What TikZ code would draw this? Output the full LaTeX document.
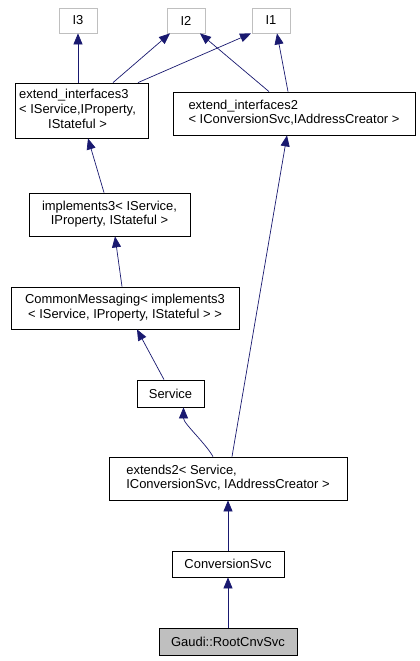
\documentclass[tikz,border=0pt]{standalone}
\usepackage{fontspec}
\setmainfont{Liberation Sans}
\usetikzlibrary{arrows.meta}
\definecolor{edgeblue}{HTML}{191970}
\definecolor{lgray}{HTML}{BFBFBF}
\begin{document}
\begin{tikzpicture}[x=1bp,y=-1bp,
  font=\fontsize{13}{15}\selectfont,
  cls/.style={draw=black, rectangle, inner sep=0pt, align=center, line width=0.8bp},
  iface/.style={draw=lgray, rectangle, inner sep=0pt, line width=0.8bp, minimum width=38bp, minimum height=25bp},
  edge/.style={draw=edgeblue, line width=0.7bp, -{Triangle[length=11bp,width=9bp,fill=edgeblue]}}]
\useasboundingbox[fill=white] (0,0) rectangle (419,661);

\node[iface] (I3) at (78,20.5) {I3};
\node[iface] (I2) at (186,20.5) {I2};
\node[iface] (I1) at (271,20.5) {I1};

\node[cls, minimum width=133bp, minimum height=55bp] (ei3) at (81.5,110.5)
  {\begin{tabular}{@{}l@{}}extend\_interfaces3\\< IService,IProperty,\\\multicolumn{1}{@{}c@{}}{IStateful >}\end{tabular}\hspace{8bp}};
\node[cls, minimum width=242bp, minimum height=43bp] (ei2) at (294,113.5)
  {\begin{tabular}{@{}l@{}}extend\_interfaces2\\\multicolumn{1}{@{}c@{}}{< IConversionSvc,IAddressCreator >}\end{tabular}};
\node[cls, minimum width=161bp, minimum height=43bp] (impl3) at (109.5,214.5)
  {\begin{tabular}{@{}l@{}}implements3< IService,\\\multicolumn{1}{@{}c@{}}{IProperty, IStateful >}\end{tabular}};
\node[cls, minimum width=228bp, minimum height=42bp] (cm) at (125,308)
  {\begin{tabular}{@{}l@{}}CommonMessaging< implements3\\\multicolumn{1}{@{}c@{}}{< IService, IProperty, IStateful > >}\end{tabular}};
\node[cls, minimum width=67bp, minimum height=27bp] (svc) at (170.5,393.5) {Service};
\node[cls, minimum width=238bp, minimum height=43bp] (ext2) at (228,478.5)
  {\begin{tabular}{@{}l@{}}extends2< Service,\\\multicolumn{1}{@{}c@{}}{IConversionSvc, IAddressCreator >}\end{tabular}};
\node[cls, minimum width=112bp, minimum height=26bp] (conv) at (228,564) {ConversionSvc};
\node[cls, fill=lgray, minimum width=138bp, minimum height=27bp] (root) at (228,641.5) {Gaudi::RootCnvSvc};

\draw[edge] (I3.south |- ei3.north) -- (I3.south);
\draw[edge] ([xshift=31.5bp]ei3.north) -- ([xshift=-16bp]I2.south);
\draw[edge] ([xshift=56.5bp]ei3.north) -- ([xshift=-20bp]I1.south);
\draw[edge] ([xshift=-25bp]ei2.north) -- ([xshift=14bp]I2.south);
\draw[edge] ([xshift=-6bp]ei2.north) -- ([xshift=6bp]I1.south);
\draw[edge] ([xshift=-5.5bp]impl3.north) -- ([xshift=6.5bp]ei3.south);
\draw[edge] ([xshift=-3bp]cm.north) -- ([xshift=5.5bp]impl3.south);
\draw[edge] ([xshift=-6.5bp]svc.north) -- ([xshift=12bp]cm.south);
\draw[edge] ([xshift=-15bp]ext2.north) .. controls +(-8,-14) and +(0,16) .. ([xshift=13bp]svc.south);
\draw[edge] ([xshift=4bp]ext2.north) -- ([xshift=-7bp]ei2.south);
\draw[edge] (conv.north) -- (ext2.south);
\draw[edge] (root.north) -- (conv.south);
\end{tikzpicture}
\end{document}
